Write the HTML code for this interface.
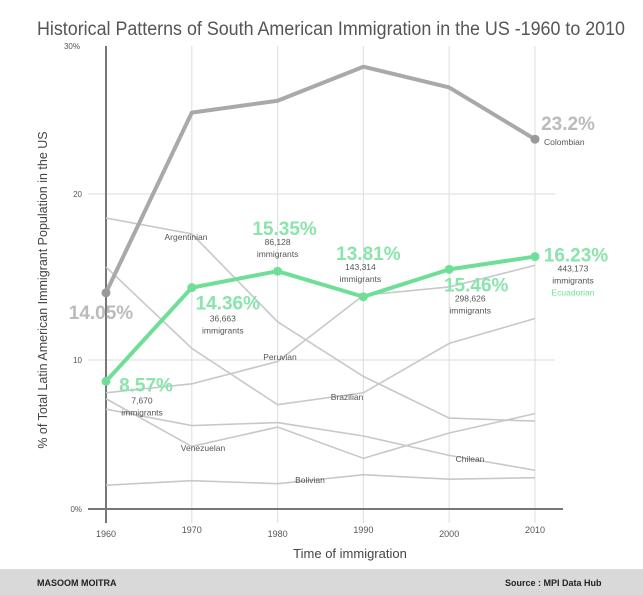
<!DOCTYPE html>
<html><head><meta charset="utf-8">
<style>
html,body{margin:0;padding:0;background:#fff;}
svg{display:block;font-family:"Liberation Sans",sans-serif;}
</style></head>
<body>
<svg id="chart" width="643" height="595" viewBox="0 0 643 595" xmlns="http://www.w3.org/2000/svg">
<text x="37" y="35" font-size="19" fill="#555" textLength="588" lengthAdjust="spacingAndGlyphs">Historical Patterns of South American Immigration in the US -1960 to 2010</text>
<g id="grid"></g>
<g id="others"></g>
<g id="main"></g>
<g id="labels"></g>
<rect x="0" y="569" width="643" height="26" fill="#d9d9d9"/>
<text x="37" y="586" font-size="9" font-weight="bold" fill="#222">MASOOM MOITRA</text>
<text x="505" y="586" font-size="9" font-weight="bold" fill="#222">Source : MPI Data Hub</text>
<text x="350" y="558" font-size="13" fill="#444" text-anchor="middle">Time of immigration</text>
<text transform="translate(47,290) rotate(-90)" font-size="12.5" fill="#444" text-anchor="middle">% of Total Latin American Immigrant Population in the US</text>
</svg>
<script>
const years = [1960,1970,1980,1990,2000,2010];
const yTicks = [0,10,20,30];
const yTickLabels = ["0%","10","20","30%"];
const colombian = [14.05,25.5,26.3,28.6,27.2,23.7];
const colombianLabels = ["14.05%","23.2%"];
const ecuadorian = [8.57,14.36,15.35,13.81,15.46,16.23];
const ecuadorianCounts = ["7,670","36,663","86,128","143,314","298,626","443,173"];
const argentinian = [18.55,17.6,12.3,8.9,6.1,5.9];
const brazilian = [15.6,10.7,7.0,7.8,11.0,12.5];
const peruvian = [7.8,8.4,9.9,13.9,14.4,15.7];
const chilean = [6.7,5.6,5.8,4.9,3.6,2.6];
const venezuelan = [7.4,4.2,5.5,3.4,5.1,6.4];
const bolivian = [1.6,1.9,1.7,2.3,2.0,2.1];
const otherSeries = [argentinian,brazilian,peruvian,chilean,venezuelan,bolivian];
const otherNames = ["argentinian","brazilian","peruvian","chilean","venezuelan","bolivian"];

const NS="http://www.w3.org/2000/svg";
const x = v => 106 + (v-1960)*8.58;
const tickPx = [509,360,194,46];
const y = v => {
  const i = Math.max(0, Math.min(2, Math.floor(v/10)));
  const t = (v - i*10)/10;
  return tickPx[i] + (tickPx[i+1]-tickPx[i])*t;
};
function mk(tag, parent, attrs){const e=document.createElementNS(NS,tag);for(const k in attrs)e.setAttribute(k,attrs[k]);document.getElementById(parent).appendChild(e);return e;}
function txt(parent, s, attrs){const e=mk('text',parent,attrs);e.textContent=s;return e;}

years.forEach((yr,i)=>{
  if(i>0){const l=mk('line','grid',{x1:x(yr),x2:x(yr),y1:46,y2:523,stroke:'#e2e2e2','stroke-width':1.2});
  
  }
  const t=txt('grid',String(yr),{x:x(yr),y:i%2?533:537,'font-size':9,fill:'#555','text-anchor':'middle'});
  
  
});
yTicks.forEach((v,i)=>{
  if(v===10||v===20){const l=mk('line','grid',{x1:88,x2:555,y1:y(v),y2:y(v),stroke:'#e2e2e2','stroke-width':1.2});
  
  }
  const t=txt('grid',yTickLabels[i],{x:v===30?80:82,y:y(v)+3,'font-size':8,fill:'#555','text-anchor':'end'});
  
  
});
const ya=mk('line','grid',{x1:106,x2:106,y1:46,y2:523,stroke:'#777','stroke-width':2});


const xa=mk('line','grid',{x1:88,x2:563,y1:y(0),y2:y(0),stroke:'#777','stroke-width':2});



const pts = arr => arr.map((v,i)=>x(years[i])+','+y(v)).join(' ');
otherSeries.forEach((s,k)=>{
  const p=mk('polyline','others',{points:pts(s),fill:'none',stroke:'#c8c8c8','stroke-width':1.6});
  
  
});
const col=mk('polyline','main',{points:pts(colombian),fill:'none',stroke:'#a9a9a9','stroke-width':4,'stroke-linejoin':'round'});


[0,5].forEach(i=>{const c=mk('circle','main',{cx:x(years[i]),cy:y(colombian[i]),r:4.5,fill:'#999'});

});
const ec=mk('polyline','main',{points:pts(ecuadorian),fill:'none',stroke:'#6fdf97','stroke-width':4,'stroke-linejoin':'round'});


ecuadorian.forEach((v,i)=>{const c=mk('circle','main',{cx:x(years[i]),cy:y(v),r:4.5,fill:'#6fdf97'});

});

const layout=[{dx:40,dy:10,cx:36,cy:22},{dx:36,dy:22,cx:31,cy:34},{dx:7,dy:-36,cx:0,cy:-26},{dx:5,dy:-37,cx:-3,cy:-27},{dx:27,dy:22,cx:21,cy:32},{dx:41,dy:5,cx:38,cy:15}];
ecuadorian.forEach((v,i)=>{
  const px=x(years[i]), py=y(v), L=layout[i];
  const t=txt('labels',v.toFixed(2)+'%',{x:px+L.dx,y:py+L.dy,'font-size':19,'font-weight':'bold',fill:'#8ae4ac','text-anchor':'middle'});
  
  
  const c=txt('labels',ecuadorianCounts[i],{x:px+L.cx,y:py+L.cy,'font-size':8.5,fill:'#555','text-anchor':'middle'});
  
  
  const m=txt('labels','immigrants',{x:px+L.cx,y:py+L.cy+12,'font-size':8.5,fill:'#555','text-anchor':'middle'});
  
  
});
const ecl=txt('labels','Ecuadorian',{x:x(2010)+38,y:y(ecuadorian[5])+39,'font-size':8.5,fill:'#6fdf97','text-anchor':'middle'});


const c0=txt('labels',colombianLabels[0],{x:x(1960)-5,y:y(colombian[0])+26,'font-size':19,'font-weight':'bold',fill:'#bbb','text-anchor':'middle'});


const c5=txt('labels',colombianLabels[1],{x:x(2010)+33,y:y(colombian[5])-9,'font-size':19,'font-weight':'bold',fill:'#bbb','text-anchor':'middle'});


const cn=txt('labels','Colombian',{x:x(2010)+9,y:y(colombian[5])+6,'font-size':8.5,fill:'#555'});


const names=[["Argentinian",186,240],["Peruvian",280,360],["Brazilian",347,400],["Venezuelan",203,451],["Bolivian",310,483],["Chilean",470,462]];
names.forEach(n=>{const t=txt('labels',n[0],{x:n[1],y:n[2],'font-size':8.5,fill:'#555','text-anchor':'middle'});

});
</script>
</body></html>
